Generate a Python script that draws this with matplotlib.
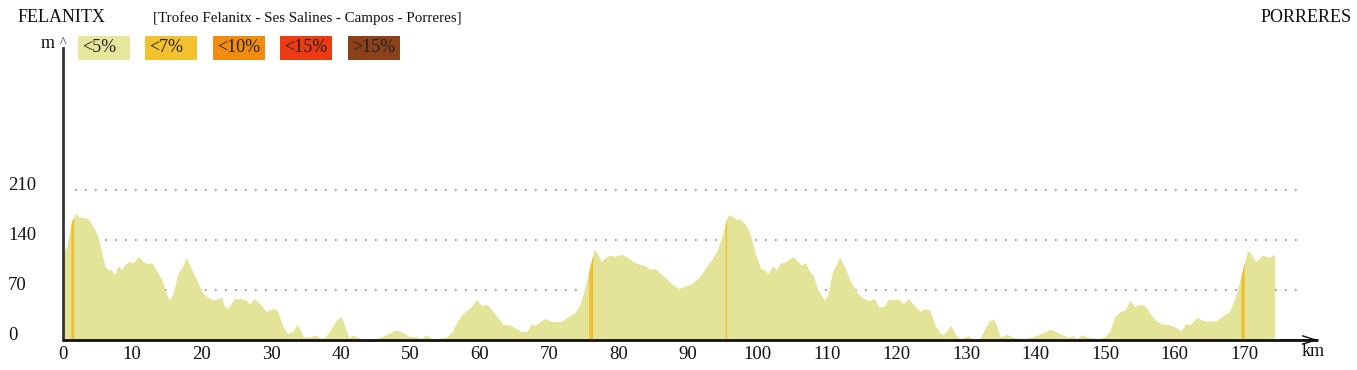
import numpy as np
import matplotlib
matplotlib.use('Agg')
import matplotlib.pyplot as plt
from matplotlib.transforms import blended_transform_factory

# profile: distance (km) and altitude (m)
km = [0.0, 0.6, 1.3, 1.9, 2.3, 3.0, 3.5, 4.0, 4.7, 5.2, 5.7, 6.1, 6.6, 7.0, 7.5,
      8.0, 8.5, 9.0, 9.6, 10.1, 11.0, 11.6, 12.2, 12.9, 13.6, 14.3, 15.0, 15.4,
      15.9, 16.6, 17.4, 17.8, 18.3, 19.3, 20.2, 21.2, 21.9, 22.9, 23.3, 23.8,
      24.7, 25.7, 26.4, 26.9, 27.6, 28.4, 29.3, 29.8, 30.5, 31.0, 31.7, 32.4,
      33.1, 33.8, 34.6, 35.6, 36.4, 37.0, 37.7, 38.4, 39.4, 40.1, 40.8, 41.2,
      41.8, 42.5, 43.4, 45.1, 46.5, 48.0, 48.9, 49.9, 50.8, 51.6, 52.3, 53.0,
      54.2, 55.2, 56.1, 56.9, 57.6, 58.3, 58.9, 59.6, 60.3, 61.0, 61.8, 62.5,
      63.4, 64.4, 65.1, 66.1, 66.8, 67.5, 68.0, 68.7, 69.4, 70.4, 71.8, 72.8,
      73.7, 74.5, 75.2, 75.9, 76.4, 76.6, 77.0, 77.5, 78.0, 78.7, 79.5, 80.4,
      81.1, 82.1, 83.0, 83.7, 84.5, 85.2, 86.1, 87.1, 88.0, 88.7, 89.7, 90.6,
      91.8, 92.8, 93.5, 94.2, 95.0, 95.5, 95.8, 96.2, 96.9, 97.6, 98.3, 98.8,
      99.3, 99.8, 100.5, 101.0, 101.5, 102.2, 102.7, 103.2, 104.1, 105.1, 105.8,
      106.3, 106.9, 107.5, 108.0, 108.7, 109.6, 110.1, 110.8, 111.8, 112.5,
      113.4, 114.4, 115.3, 116.0, 116.8, 117.5, 118.2, 118.8, 119.6, 120.3,
      121.0, 121.7, 122.4, 123.4, 124.1, 124.8, 125.5, 126.5, 127.2, 127.8,
      128.4, 129.1, 130.3, 131.0, 132.0, 132.7, 133.3, 133.9, 134.4, 134.9,
      135.9, 136.6, 138.0, 139.5, 140.8, 142.2, 143.5, 144.7, 145.4, 145.9,
      146.6, 147.6, 149.0, 150.0, 150.7, 151.4, 152.2, 152.9, 153.6, 154.2,
      155.2, 155.8, 156.5, 157.2, 158.2, 159.1, 160.1, 161.0, 161.6, 162.2,
      163.2, 163.9, 164.8, 166.0, 167.0, 167.9, 168.6, 169.3, 169.9, 170.5,
      171.0, 171.7, 172.6, 173.4, 173.9, 174.4]
alt = [122, 131, 166, 178, 173, 171, 171, 166, 154, 142, 121, 103, 98, 99, 92,
       104, 98, 106, 110, 108, 117, 110, 107, 108, 96, 84, 63, 56,
       65, 93, 105, 116, 105, 84, 65, 58, 56, 60, 47, 44,
       58, 58, 56, 50, 58, 51, 40, 42, 44, 40, 19, 9,
       12, 22, 5, 4, 7, 3, 3, 12, 28, 33, 14, 3,
       7, 4, 1, 2, 7, 14, 11, 5, 5, 2, 7, 3,
       2, 4, 12, 28, 37, 42, 48, 57, 48, 50, 42, 33,
       22, 21, 17, 12, 12, 23, 20, 26, 30, 26, 26, 33,
       38, 51, 75, 103, 124, 126, 121, 110, 114, 119, 117, 120,
       117, 110, 106, 105, 99, 100, 93, 84, 76, 72, 76, 79,
       90, 105, 114, 126, 149, 168, 175, 174, 169, 169, 161, 152,
       135, 117, 100, 98, 93, 104, 98, 107, 110, 117, 110,
       105, 108, 96, 91, 70, 56, 63, 96, 116, 103,
       82, 65, 58, 55, 58, 46, 47, 57, 57, 57,
       51, 58, 50, 40, 44, 42, 21, 7, 12, 21,
       9, 2, 6, 2, 2, 16, 26, 30, 21, 4,
       8, 4, 2, 4, 9, 15, 9, 4, 6, 2,
       7, 4, 2, 5, 12, 33, 40, 42, 56, 47,
       50, 47, 37, 28, 22, 22, 18, 13, 23, 21,
       32, 28, 26, 27, 34, 40, 56, 79, 103, 125,
       121, 110, 119, 116, 117, 120]

# stretches drawn in the <7% colour
steep_start = [1.2, 75.7, 95.35, 169.55]
steep_end = [1.6, 76.3, 95.55, 170.05]

y_ticks = [0, 70, 140, 210]
x_ticks = list(range(0, 171, 10))
grades = ['<5%', '<7%', '<10%', '<15%', '>15%']
grade_colors = ['#e6e69c', '#f2c12e', '#f28c0f', '#ec3a12', '#8b4119']

W, H = 1357, 370
plt.rcParams['font.family'] = 'Liberation Serif'

fig = plt.figure(figsize=(W / 100, H / 100), dpi=100)
# axes box in pixels: left 62.5, top 48, bottom 340
x_px0, x_px1 = 62.5, 1318
y_top, y_bot = 48, 340
ax = fig.add_axes([x_px0 / W, 1 - y_bot / H, (x_px1 - x_px0) / W, (y_bot - y_top) / H])
px_per_km = (1244 - 62.5) / 170
ax.set_xlim(0, (x_px1 - x_px0) / px_per_km)
ax.set_ylim(0, (y_bot - y_top) * 1.4)

fill_col = '#e3e498'
ax.fill_between(km, alt, 0, color=fill_col, lw=0, zorder=2)
for a, b in zip(steep_start, steep_end):
    xs = np.linspace(a, b, 6)
    ax.fill_between(xs, np.interp(xs, km, alt), 0, color='#f0c030', lw=0, zorder=3)

# dotted guide lines behind the profile
g0 = (75 - x_px0) / px_per_km
g1 = (1302 - x_px0) / px_per_km
ax.hlines(y_ticks[1:], g0, g1, colors='#888888', linestyles=(0, (1, 5)), lw=1.2, zorder=1)

for s in ['top', 'right', 'bottom']:
    ax.spines[s].set_visible(False)
ax.spines['left'].set_color('#333333')
ax.spines['left'].set_linewidth(2)
ax.set_xticks([])
ax.set_yticks([])

# x axis: thick line, thin open arrow head
ax.plot([0, 1.0], [0, 0], transform=blended_transform_factory(ax.transAxes, ax.transData),
        color='#111111', lw=2, solid_capstyle='butt', clip_on=False, zorder=5)
ax.annotate('', xy=(1.0, 0), xytext=(0.97, 0), xycoords=('axes fraction', 'data'),
            arrowprops=dict(arrowstyle='->,head_length=0.95,head_width=0.3',
                            color='#111111', lw=1, shrinkA=0, shrinkB=0), zorder=5)

fs = 13
for t in x_ticks:
    ax.text(t, -9, str(t), ha='center', va='top', fontsize=13.5, color='#111111')
tr = blended_transform_factory(fig.transFigure, ax.transData)
for v in y_ticks:
    ax.text(8 / W, v + 6.5, str(v), transform=tr, ha='left', va='center', fontsize=13.5, color='#111111')

fig.text(1325 / W, 1 - 352 / H, 'km', ha='right', va='center', fontsize=fs, color='#111111')
fig.text(41 / W, 1 - 44 / H, 'm', ha='left', va='center', fontsize=fs, color='#111111')
fig.text(63 / W, 1 - 44 / H, '^', ha='center', va='center', fontsize=10, color='#333333')

fig.text(18 / W, 1 - 18 / H, 'FELANITX', ha='left', va='center', fontsize=fs, color='#111111')
fig.text(153 / W, 1 - 18 / H, '[Trofeo Felanitx - Ses Salines - Campos - Porreres]',
         ha='left', va='center', fontsize=10.8, color='#111111')
fig.text(1352 / W, 1 - 18 / H, 'PORRERES', ha='right', va='center', fontsize=fs, color='#111111')

# grade legend boxes
box_left = [78, 145, 213, 280, 348]
for lbl, col, bx in zip(grades, grade_colors, box_left):
    fig.patches.append(plt.Rectangle((bx / W, 1 - 60 / H), 52 / W, 24 / H,
                                     transform=fig.transFigure, color=col, lw=0))
    fig.text((bx + 4) / W, 1 - 48 / H, lbl, ha='left', va='center', fontsize=fs, color='#222222')

fig.savefig('out.png', dpi=100)
